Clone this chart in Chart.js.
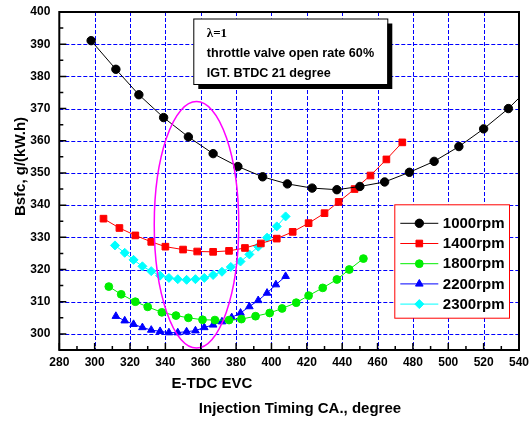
<!DOCTYPE html>
<html><head><meta charset="utf-8">
<script src="https://cdn.jsdelivr.net/npm/chart.js@4/dist/chart.umd.min.js"></script>
<style>html,body{margin:0;padding:0;background:#fff;}</style>
</head><body>
<canvas id="c" width="529" height="421"></canvas>
<script>
// ---- data ----
const xTicks = [280,300,320,340,360,380,400,420,440,460,480,500,520,540];
const yTicks = [300,310,320,330,340,350,360,370,380,390,400];
const seriesNames = ['1000rpm','1400rpm','1800rpm','2200rpm','2300rpm'];

const x1000 = [298,312,325,339,353,367,381,395,409,423,437,450,464,478,492,506,520,534,548];
const y1000 = [391.1,382.2,374.3,367.2,361.2,356.0,352.0,348.8,346.6,345.3,344.8,345.8,347.2,350.2,353.6,358.2,363.7,370.0,377.7];

const x1400 = [305,314,323,332,340,350,358,367,376,385,394,403,412,421,430,438,447,456,465,474];
const y1400 = [335.8,332.9,330.6,328.6,327.1,326.2,325.6,325.5,325.8,326.7,328.1,329.6,331.7,334.4,337.5,341.0,345.0,349.2,354.2,359.5];

const x1800 = [308,315,323,330,338,346,353,361,368,376,383,391,399,406,414,421,429,437,444,452];
const y1800 = [314.7,312.3,310.0,308.4,306.7,305.7,305.0,304.4,304.3,304.3,304.6,305.5,306.5,307.9,309.7,311.9,314.3,316.9,320.0,323.4];

const x2200 = [312,317,322,327,332,337,342,347,352,357,362,367,372,377.5,382.5,387.5,392.5,397.5,402.5,408];
const y2200 = [305.5,304.1,303.0,302.0,301.2,300.8,300.4,300.4,300.7,301.0,302.0,302.8,303.8,305.1,306.5,308.5,310.4,312.7,315.3,317.9];

const x2300 = [311.5,317,322,327,332,337,342,347,352,357,362,367,372,377,382.5,387.5,392.5,397.5,403,408];
const y2300 = [327.5,325.2,323.0,321.0,319.5,318.1,317.4,317.0,316.8,317.0,317.4,318.3,319.3,320.8,322.5,324.7,327.1,329.9,333.4,336.5];

const xTitle = 'Injection Timing CA., degree';
const yTitle = 'Bsfc, g/(kW.h)';
const xSubLabel = 'E-TDC EVC';
const noteLines = ['λ=1','throttle valve open rate 60%','IGT. BTDC 21 degree'];
const ellipseCenter = [357.6, 333.9];   // data units
const ellipseRadii = [23.9, 38.3];      // data units

// ---- styles ----
const FONT = 'Arial, "Liberation Sans", sans-serif';
const styles = [
  {color:'#000000', point:'circle',   r:4.2},
  {color:'#ff0000', point:'rect',     r:4.7},
  {color:'#00ee00', point:'circle',   r:3.9},
  {color:'#0000ff', point:'triangle', r:4.4},
  {color:'#00ffff', point:'rectRot',  r:4.5}
];
const xs = [x1000,x1400,x1800,x2200,x2300];
const ys = [y1000,y1400,y1800,y2200,y2300];

const datasets = seriesNames.map((name,i)=>({
  label:name,
  data: xs[i].map((x,j)=>({x:x, y:ys[i][j]})),
  showLine:true,
  borderColor:styles[i].color,
  backgroundColor:styles[i].color,
  borderWidth:1,
  pointStyle:styles[i].point,
  pointRadius:styles[i].r,
  pointHoverRadius:styles[i].r,
  pointBorderWidth:1,
  pointBorderColor:styles[i].color,
  pointBackgroundColor:styles[i].color,
  tension:0
}));

function drawMarker(ctx, style, r, x, y){
  ctx.beginPath();
  if(style==='circle'){ ctx.arc(x,y,r,0,Math.PI*2); }
  else if(style==='rect'){ const s=Math.SQRT1_2*r; ctx.rect(x-s,y-s,2*s,2*s); }
  else if(style==='triangle'){
    let rad=0; ctx.moveTo(x+Math.sin(rad)*r, y-Math.cos(rad)*r);
    rad+=2*Math.PI/3; ctx.lineTo(x+Math.sin(rad)*r, y-Math.cos(rad)*r);
    rad+=2*Math.PI/3; ctx.lineTo(x+Math.sin(rad)*r, y-Math.cos(rad)*r);
    ctx.closePath();
  } else if(style==='rectRot'){
    ctx.moveTo(x-r,y); ctx.lineTo(x,y-r); ctx.lineTo(x+r,y); ctx.lineTo(x,y+r); ctx.closePath();
  }
  ctx.fill(); ctx.stroke();
}

// grid + axis texts (drawn from the chart's own scales)
const axesPlugin = {
  id:'axesText',
  beforeDatasetsDraw(chart){
    const {ctx, chartArea:a, scales:{x, y}} = chart;
    ctx.save();
    ctx.strokeStyle='#0000ff'; ctx.lineWidth=1; ctx.setLineDash([4,2]);
    ctx.beginPath();
    xTicks.forEach(v=>{
      if(v<=x.min || v>=x.max) return;
      const px = Math.round(x.getPixelForValue(v))+0.5;
      ctx.moveTo(px,a.top); ctx.lineTo(px,a.bottom);
    });
    yTicks.forEach(v=>{
      if(v<=y.min || v>=y.max) return;
      const py = Math.round(y.getPixelForValue(v))+0.5;
      ctx.moveTo(a.left,py); ctx.lineTo(a.right,py);
    });
    ctx.stroke();
    ctx.setLineDash([]);

    ctx.fillStyle='#000';
    ctx.font='bold 12px '+FONT;
    ctx.textAlign='center'; ctx.textBaseline='middle';
    xTicks.forEach(v=>{ ctx.fillText(String(v), x.getPixelForValue(v), a.bottom+13); });
    ctx.textAlign='right';
    yTicks.forEach(v=>{ ctx.fillText(String(v), a.left-9, y.getPixelForValue(v)); });

    ctx.font='bold 15px '+FONT;
    ctx.textAlign='center';
    ctx.fillText(xTitle, 300, 409);
    ctx.textAlign='left';
    ctx.fillText(xSubLabel, 171.5, 383.5);
    ctx.save();
    ctx.translate(21, 166.5); ctx.rotate(-Math.PI/2);
    ctx.textAlign='center';
    ctx.fillText(yTitle, 0, 0);
    ctx.restore();
    ctx.restore();
  }
};

const overlay = {
  id:'overlay',
  afterDatasetsDraw(chart){
    const {ctx, chartArea:a, scales:{x, y}} = chart;
    ctx.save();
    // ellipse
    const cx = x.getPixelForValue(ellipseCenter[0]);
    const cy = y.getPixelForValue(ellipseCenter[1]);
    const rx = Math.abs(x.getPixelForValue(ellipseCenter[0]+ellipseRadii[0]) - cx);
    const ry = Math.abs(y.getPixelForValue(ellipseCenter[1]+ellipseRadii[1]) - cy);
    ctx.beginPath(); ctx.ellipse(cx,cy,rx,ry,0,0,Math.PI*2);
    ctx.strokeStyle='#ff00ff'; ctx.lineWidth=1.5; ctx.stroke();

    // frame
    ctx.strokeStyle='#000'; ctx.lineWidth=2;
    ctx.strokeRect(a.left,a.top,a.right-a.left,a.bottom-a.top);
    ctx.lineWidth=1.5;
    ctx.beginPath();
    for(let i=0;i<xTicks.length;i++){
      const px = x.getPixelForValue(xTicks[i]);
      ctx.moveTo(px,a.bottom); ctx.lineTo(px,a.bottom-7);
      if(i<xTicks.length-1){
        const pm = x.getPixelForValue((xTicks[i]+xTicks[i+1])/2);
        ctx.moveTo(pm,a.bottom); ctx.lineTo(pm,a.bottom-4);
      }
    }
    for(let i=0;i<yTicks.length;i++){
      const py = y.getPixelForValue(yTicks[i]);
      ctx.moveTo(a.left,py); ctx.lineTo(a.left+7,py);
      if(yTicks[i]-5>=y.min){
        const pm = y.getPixelForValue(yTicks[i]-5);
        ctx.moveTo(a.left,pm); ctx.lineTo(a.left+4,pm);
      }
    }
    ctx.stroke();

    // annotation box
    const bx=a.left+134, by=a.top+6.5, bw=194, bh=65.5;
    ctx.fillStyle='#000'; ctx.fillRect(bx+5,by+5,bw,bh);
    ctx.fillStyle='#fff'; ctx.fillRect(bx,by,bw,bh);
    ctx.lineWidth=1; ctx.strokeStyle='#000'; ctx.strokeRect(bx+0.5,by+0.5,bw,bh);
    ctx.fillStyle='#000'; ctx.textBaseline='middle'; ctx.textAlign='left';
    ctx.font='bold 13px "Times New Roman", "Liberation Serif", serif';
    ctx.fillText(noteLines[0], bx+13.5, by+15);
    ctx.font='bold 12.6px '+FONT;
    ctx.fillText(noteLines[1], bx+13.5, by+35);
    ctx.fillText(noteLines[2], bx+13.5, by+55);

    // legend
    const lx=a.left+335, ly=a.top+192.3, lw=114.7, lh=113.4;
    ctx.fillStyle='#fff'; ctx.fillRect(lx,ly,lw,lh);
    ctx.strokeStyle='#ff0000'; ctx.lineWidth=1; ctx.strokeRect(lx+0.5,ly+0.5,lw,lh);
    ctx.font='bold 15px '+FONT;
    for(let i=0;i<seriesNames.length;i++){
      const ry2 = ly+19 + i*20.2;
      ctx.strokeStyle=styles[i].color; ctx.fillStyle=styles[i].color; ctx.lineWidth=1;
      ctx.beginPath(); ctx.moveTo(lx+6,ry2); ctx.lineTo(lx+44,ry2); ctx.stroke();
      drawMarker(ctx, styles[i].point, styles[i].r, lx+25, ry2);
      ctx.fillStyle='#000';
      ctx.fillText(seriesNames[i], lx+48.5, ry2+0.5);
    }
    ctx.restore();
  }
};

new Chart(document.getElementById('c'), {
  type:'scatter',
  data:{datasets},
  plugins:[axesPlugin, overlay],
  options:{
    responsive:false,
    animation:false,
    layout:{padding:{left:59.3,right:10,top:12,bottom:71}},
    plugins:{legend:{display:false}, tooltip:{enabled:false}},
    scales:{
      x:{ type:'linear', min:280, max:540, display:false },
      y:{ type:'linear', min:295, max:400, display:false }
    }
  }
});
</script>
</body></html>
